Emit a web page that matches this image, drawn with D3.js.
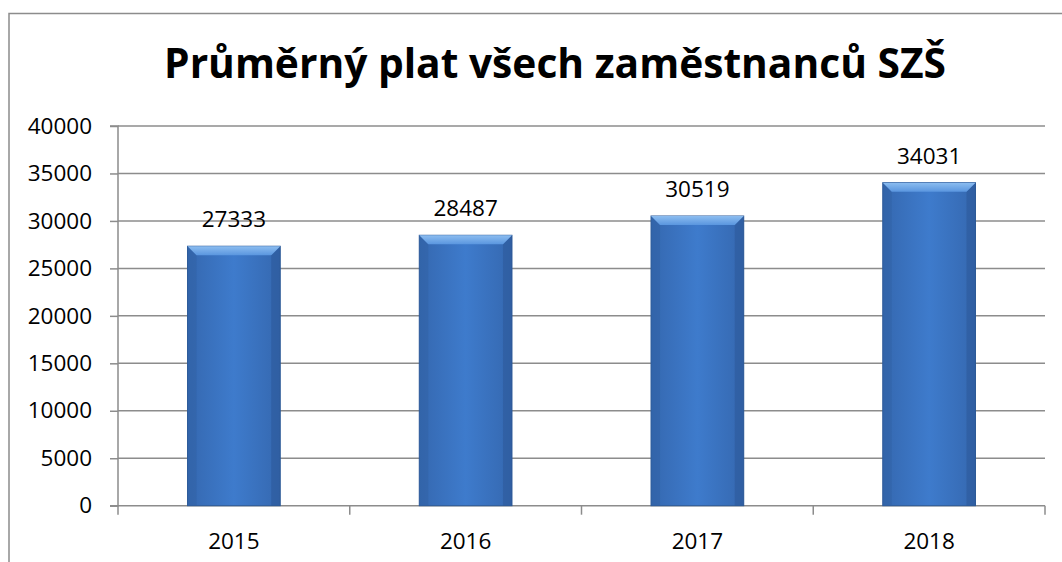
<!DOCTYPE html>
<html>
<head>
<meta charset="utf-8">
<script src="https://cdn.jsdelivr.net/npm/d3@7"></script>
<style>
  body { margin: 0; background: #fff; }
  text { font-family: "Open Sans", "Noto Sans", sans-serif; }
</style>
</head>
<body>
<svg id="chart" width="1062" height="562"></svg>
<script>
// data
const years = ["2015", "2016", "2017", "2018"];
const salaries = [27333, 28487, 30519, 34031];
const yTicks = [0, 5000, 10000, 15000, 20000, 25000, 30000, 35000, 40000];
const title = "Průměrný plat všech zaměstnanců SZŠ";

const svg = d3.select("#chart");
const plotL = 118, plotR = 1045, plotT = 126, plotB = 505.7;
const labelSize = 22.5;

// outer chart border (only top + left visible in the crop)
svg.append("path")
  .attr("d", "M9,562 V13.5 H1062")
  .attr("fill", "none").attr("stroke", "#8c8c8c").attr("stroke-width", 1.5);

// title, sized to fit the width of the original
let t = svg.append("text")
  .attr("x", 555).attr("y", 78)
  .attr("text-anchor", "middle")
  .attr("font-weight", "bold")
  .attr("font-size", 40)
  .attr("fill", "#000")
  .text(title);
let w = t.node().getComputedTextLength();
t.attr("font-size", 40 * 782 / w);

const x = d3.scaleBand().domain(years).range([plotL, plotR]).padding(0);
const y = d3.scaleLinear().domain([0, 40000]).range([plotB, plotT]);

// gridlines
svg.append("g").selectAll("line")
  .data(yTicks.filter(d => d > 0))
  .enter().append("line")
  .attr("x1", plotL).attr("x2", plotR)
  .attr("y1", d => y(d)).attr("y2", d => y(d))
  .attr("stroke", "#8c8c8c").attr("stroke-width", 1.5);

// y axis
let yAxis = svg.append("g")
  .attr("transform", `translate(${plotL},0)`)
  .call(d3.axisLeft(y).tickValues(yTicks).tickSize(8).tickPadding(18).tickFormat(d3.format("d")));
yAxis.select(".domain").attr("stroke", "#8c8c8c").attr("stroke-width", 1.5).attr("d", `M-8,${plotT}H0V${plotB}H-8`);
yAxis.selectAll(".tick line").attr("stroke", "#8c8c8c").attr("stroke-width", 1.5);
yAxis.selectAll(".tick text").attr("font-size", labelSize).attr("fill", "#000")
  .style("font-family", '"Open Sans", sans-serif');

// x axis
let xAxis = svg.append("g")
  .attr("transform", `translate(0,${plotB})`)
  .call(d3.axisBottom(x).tickSize(0).tickPadding(27));
xAxis.select(".domain").remove();
xAxis.selectAll(".tick text").attr("font-size", labelSize).attr("fill", "#000")
  .style("font-family", '"Open Sans", sans-serif');
svg.append("line").attr("x1", plotL).attr("x2", plotR).attr("y1", plotB).attr("y2", plotB)
  .attr("stroke", "#8c8c8c").attr("stroke-width", 1.5);
svg.append("g").selectAll("line")
  .data(d3.range(years.length + 1))
  .enter().append("line")
  .attr("x1", i => plotL + i * x.step()).attr("x2", i => plotL + i * x.step())
  .attr("y1", plotB).attr("y2", plotB + 9)
  .attr("stroke", "#8c8c8c").attr("stroke-width", 1.5);

// bar gradients
const defs = svg.append("defs");
let g1 = defs.append("linearGradient").attr("id", "face").attr("x1", 0).attr("x2", 1).attr("y1", 0).attr("y2", 0);
g1.append("stop").attr("offset", "0%").attr("stop-color", "#3568b0");
g1.append("stop").attr("offset", "50%").attr("stop-color", "#3e7bcc");
g1.append("stop").attr("offset", "100%").attr("stop-color", "#3568b0");
let g2 = defs.append("linearGradient").attr("id", "bevelTop").attr("x1", 0).attr("x2", 0).attr("y1", 0).attr("y2", 1);
g2.append("stop").attr("offset", "0%").attr("stop-color", "#8cbdf0");
g2.append("stop").attr("offset", "100%").attr("stop-color", "#5a96df");

const barW = x.bandwidth() * 0.4;
const bev = 9;
let bars = svg.append("g").selectAll("g")
  .data(years.map((d, i) => ({ year: d, v: salaries[i] })))
  .enter().append("g");

bars.append("rect")
  .attr("x", d => x(d.year) + (x.bandwidth() - barW) / 2)
  .attr("y", d => y(d.v))
  .attr("width", barW)
  .attr("height", d => plotB - y(d.v))
  .attr("fill", "url(#face)")
  .attr("stroke", "#2c5a98").attr("stroke-width", 1);

// left / right bevel strips
bars.append("path")
  .attr("d", d => {
    let x0 = x(d.year) + (x.bandwidth() - barW) / 2, y0 = y(d.v);
    return `M${x0},${y0}L${x0 + bev},${y0 + bev}V${plotB}H${x0}Z`;
  })
  .attr("fill", "#2f5f9f").attr("opacity", 0.4);
bars.append("path")
  .attr("d", d => {
    let x1 = x(d.year) + (x.bandwidth() + barW) / 2, y0 = y(d.v);
    return `M${x1},${y0}L${x1 - bev},${y0 + bev}V${plotB}H${x1}Z`;
  })
  .attr("fill", "#2a5593").attr("opacity", 0.45);
// top bevel
bars.append("path")
  .attr("d", d => {
    let x0 = x(d.year) + (x.bandwidth() - barW) / 2, x1 = x0 + barW, y0 = y(d.v);
    return `M${x0},${y0}H${x1}L${x1 - bev},${y0 + bev}H${x0 + bev}Z`;
  })
  .attr("fill", "url(#bevelTop)");

// value labels
bars.append("text")
  .attr("x", d => x(d.year) + x.bandwidth() / 2)
  .attr("y", d => y(d.v) - 19)
  .attr("text-anchor", "middle")
  .attr("font-size", labelSize)
  .attr("fill", "#000")
  .text(d => d.v);
</script>
</body>
</html>
